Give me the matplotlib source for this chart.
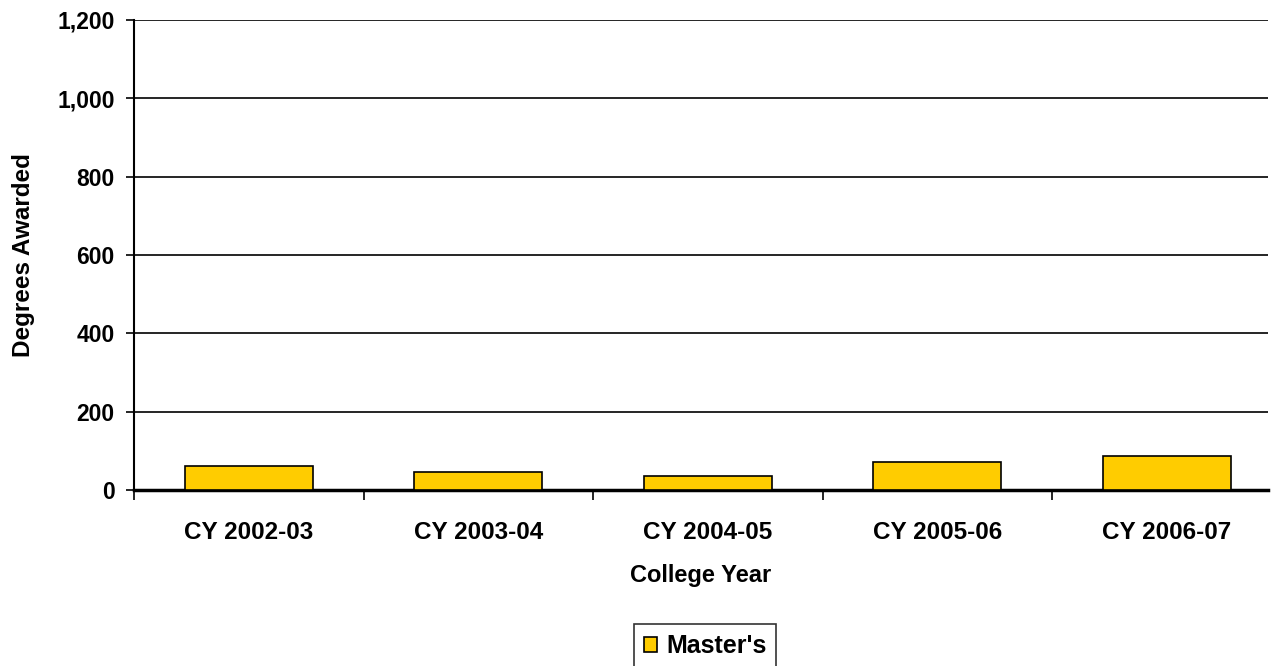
import matplotlib.pyplot as plt
import numpy as np

plt.rcParams['font.family'] = ['Liberation Sans', 'DejaVu Sans']

# Data
years = ["CY 2002-03", "CY 2003-04", "CY 2004-05", "CY 2005-06", "CY 2006-07"]
masters = [61, 46, 36, 71, 86]

fig = plt.figure(figsize=(12.81, 6.66), dpi=100)
ax = fig.add_axes([134 / 1281, 1 - 490 / 666, (1268 - 134) / 1281, 470 / 666])

x = np.arange(len(years))
ax.bar(x, masters, width=0.558, color="#FFCC00", edgecolor="black",
       linewidth=1.2, label="Master's", zorder=3)

ax.set_ylim(0, 1200)
ax.set_xlim(-0.5, 4.44)
ax.set_yticks(np.arange(0, 1201, 200))
ax.set_yticklabels([f"{v:,}" for v in range(0, 1201, 200)])
ax.yaxis.grid(True, color="black", linewidth=1.2, zorder=0)

ax.set_xticks(x)
ax.set_xticklabels(years)
ax.set_xticks(np.arange(-0.5, len(years) - 0.5), minor=True)
ax.tick_params(axis="x", which="major", length=0, pad=22)
ax.tick_params(axis="x", which="minor", length=7, width=1.2, direction="out")
ax.tick_params(axis="y", length=6, width=1.2, direction="out", pad=8)

for lab in ax.get_xticklabels():
    lab.set_fontsize(17.5)
    lab.set_fontweight("bold")
for lab in ax.get_yticklabels():
    lab.set_fontsize(16.5)
    lab.set_fontweight("bold")

for s in ["top", "right"]:
    ax.spines[s].set_visible(False)
ax.spines["left"].set_linewidth(1.5)
ax.spines["bottom"].set_linewidth(2.5)

ax.set_xlabel("College Year", fontsize=17, fontweight="bold", labelpad=15)
ax.set_ylabel("Degrees Awarded", fontsize=17.5, fontweight="bold", labelpad=16)

leg = fig.legend(loc="center", bbox_to_anchor=(705 / 1281, 1 - 646 / 666),
                 frameon=True, fancybox=False, edgecolor="black",
                 handlelength=0.55, handleheight=0.55, handletextpad=0.35,
                 borderpad=0.4, prop={"size": 18, "weight": "bold"})
leg.get_frame().set_linewidth(1.2)

fig.savefig("out.png", dpi=100)
